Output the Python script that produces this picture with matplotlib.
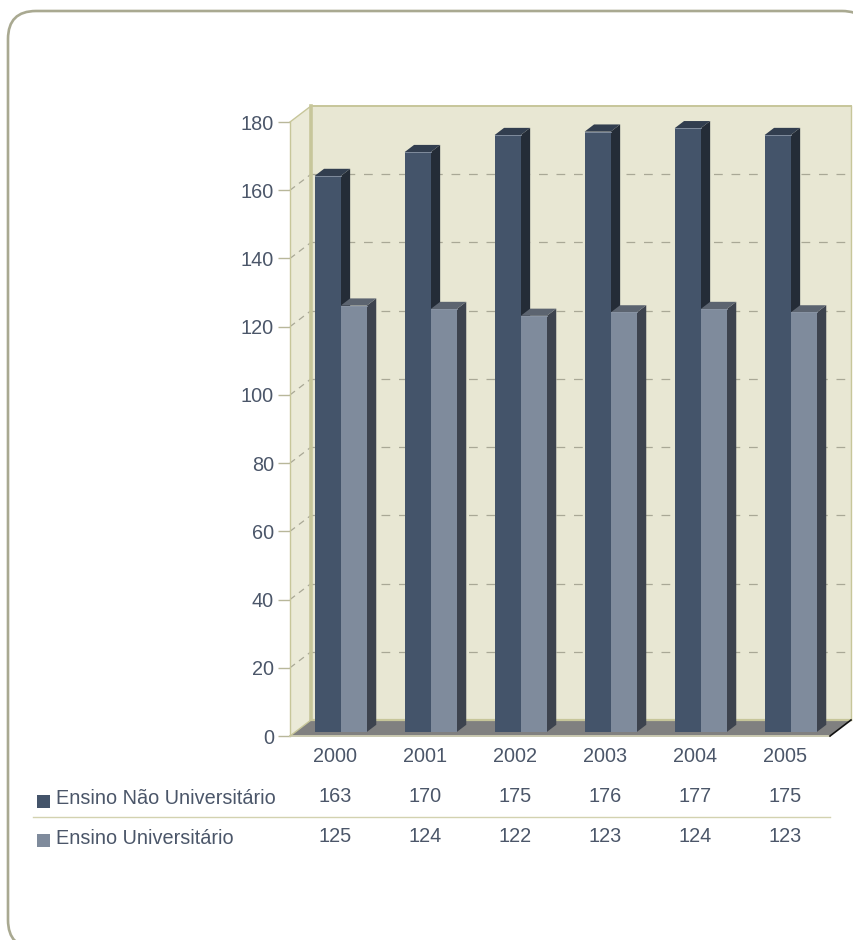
import matplotlib
matplotlib.use("Agg")
import matplotlib.pyplot as plt
from matplotlib.patches import Polygon, FancyBboxPatch, Rectangle
from matplotlib.lines import Line2D
from matplotlib.transforms import IdentityTransform, blended_transform_factory

# ---------------- data ----------------
years = ["2000", "2001", "2002", "2003", "2004", "2005"]
series_names = ["Ensino Não Universitário", "Ensino Universitário"]
nao_univ = [163, 170, 175, 176, 177, 175]
univ = [125, 124, 122, 123, 124, 123]
y_ticks = [0, 20, 40, 60, 80, 100, 120, 140, 160, 180]

# ---------------- style ----------------
W, H, DPI = 854, 940, 100
TEXT = "#4b5669"
FONT = "Liberation Sans"
FS = 14.3
front_cols = ["#44546a", "#7f8b9c"]
top_cols = ["#323e4f", "#5c6470"]
side_cols = ["#242c37", "#3d434e"]
WALL = "#e8e7d3"
SIDE_WALL = "#ebead8"
OLIVE = "#c7c69a"
GRID = "#a9a896"
DX, DY = 21.0, 16.0          # full depth of the 3D box in pixels

fig = plt.figure(figsize=(W / DPI, H / DPI), dpi=DPI)

# background axes in pixel units (frame, legend keys, separator)
bg = fig.add_axes([0, 0, 1, 1])
bg.set_xlim(0, W)
bg.set_ylim(H, 0)
bg.axis("off")
bg.add_patch(FancyBboxPatch((8, 11), 862, 937,
                            boxstyle="round,pad=0,rounding_size=28",
                            fc="white", ec="#a9a991", lw=1.9))

# chart axes = front plane of the 3D box
x_left, x_right, y_bot, y_top = 290, 830, 736, 122
ax = fig.add_axes([x_left / W, (H - y_bot) / H, (x_right - x_left) / W,
                   (y_bot - y_top) / H])
ax.set_xlim(-0.5, len(years) - 0.5)
ax.set_ylim(0, 180)
ax.patch.set_visible(False)
for s in ["top", "right", "bottom"]:
    ax.spines[s].set_visible(False)
ax.spines["left"].set_color(OLIVE)
ax.spines["left"].set_linewidth(1.0)
ax.set_yticks(y_ticks)
ax.set_yticklabels([str(v) for v in y_ticks], fontsize=FS, color=TEXT,
                   fontname=FONT)
ax.tick_params(axis="y", length=8.6, width=1.0, color="#b8b79a", pad=3)
ax.set_xticks(range(len(years)))
ax.set_xticklabels(years, fontsize=FS, color=TEXT, fontname=FONT)
ax.tick_params(axis="x", length=0, pad=8)

x0l, x1l = -0.5, len(years) - 0.5


def P(x, y, z):
    X, Y = ax.transData.transform((x, y))
    return (X + z * DX, Y + z * DY)


def poly(pts, fc, ec="none", lw=0, z=1):
    ax.add_patch(Polygon(pts, closed=True, fc=fc, ec=ec, lw=lw,
                         transform=IdentityTransform(), clip_on=False,
                         zorder=z))


def seg(p, q, color, lw=1.0, z=2, dashes=None):
    ln = Line2D([p[0], q[0]], [p[1], q[1]], color=color, lw=lw,
                transform=IdentityTransform(), clip_on=False, zorder=z)
    if dashes:
        ln.set_dashes(dashes)
    ax.add_line(ln)


# back wall
poly([P(x0l, 0, 1), P(x1l, 0, 1), P(x1l, 180, 1), P(x0l, 180, 1)], WALL, z=1)
# side wall
poly([P(x0l, 0, 0), P(x0l, 0, 1), P(x0l, 180, 1), P(x0l, 180, 0)], SIDE_WALL, z=1)

# gridlines
for v in y_ticks[1:-1]:
    seg(P(x0l, v, 1), P(x1l, v, 1), GRID, lw=0.9, z=2, dashes=(7, 7))
    seg(P(x0l, v, 0), P(x0l, v, 1), GRID, lw=0.9, z=2, dashes=(5, 4))

# wall edges
seg(P(x0l, 0, 1), P(x0l, 180, 1), OLIVE, lw=2.6, z=3)
seg(P(x0l, 180, 1), P(x1l, 180, 1), OLIVE, lw=1.4, z=3)
seg(P(x1l, 0, 1), P(x1l, 180, 1), OLIVE, lw=1.0, z=3)
seg(P(x0l, 180, 0), P(x0l, 180, 1), OLIVE, lw=1.0, z=3)

# floor
poly([P(x0l, 0, 0), P(x1l, 0, 0), P(x1l, 0, 1), P(x0l, 0, 1)], "#808080", z=3)
seg(P(x0l, 0, 1), P(x1l, 0, 1), OLIVE, lw=1.6, z=3)
seg(P(x0l, 0, 0), P(x1l, 0, 0), "#c9c8b0", lw=1.4, z=3)
seg(P(x1l, 0, 0), P(x1l, 0, 1), "#111111", lw=1.2, z=3)
seg(P(x0l, 0, 0), P(x0l, 0, 1), OLIVE, lw=1.0, z=3)

# bars
z0, z1 = 0.25, 0.70
bounds = [(-0.285, 0.005), (0.005, 0.295)]
for i in range(len(years)):
    for s, vals in enumerate([nao_univ, univ]):
        h = vals[i]
        a, b = i + bounds[s][0], i + bounds[s][1]
        poly([P(b, 0, z0), P(b, 0, z1), P(b, h, z1), P(b, h, z0)],
             side_cols[s], z=4)
        poly([P(a, h, z0), P(b, h, z0), P(b, h, z1), P(a, h, z1)],
             top_cols[s], z=4)
        poly([P(a, 0, z0), P(b, 0, z0), P(b, h, z0), P(a, h, z0)],
             front_cols[s], z=4)
        seg(P(a, h, z0), P(b, h, z0), "#8a95a5", lw=0.6, z=4)

# data table
row_y = [797, 837]
tr = blended_transform_factory(ax.transData, fig.transFigure)
for r, vals in enumerate([nao_univ, univ]):
    for i, v in enumerate(vals):
        ax.text(i, 1 - row_y[r] / H, str(v), transform=tr, ha="center",
                va="center", fontsize=FS, color=TEXT, fontname=FONT,
                clip_on=False)

# legend keys + labels
key_y = [801, 840.5]
for r, name in enumerate(series_names):
    bg.add_patch(Rectangle((37, key_y[r] - 6.5), 13, 13, fc=front_cols[r],
                           ec="none"))
    bg.text(56, row_y[r] + 1, name, ha="left", va="center", fontsize=FS,
            color=TEXT, fontname=FONT)

bg.add_line(Line2D([33, 830], [817, 817], color="#d3d2b0", lw=1.0))

fig.savefig("out.png", dpi=DPI)
